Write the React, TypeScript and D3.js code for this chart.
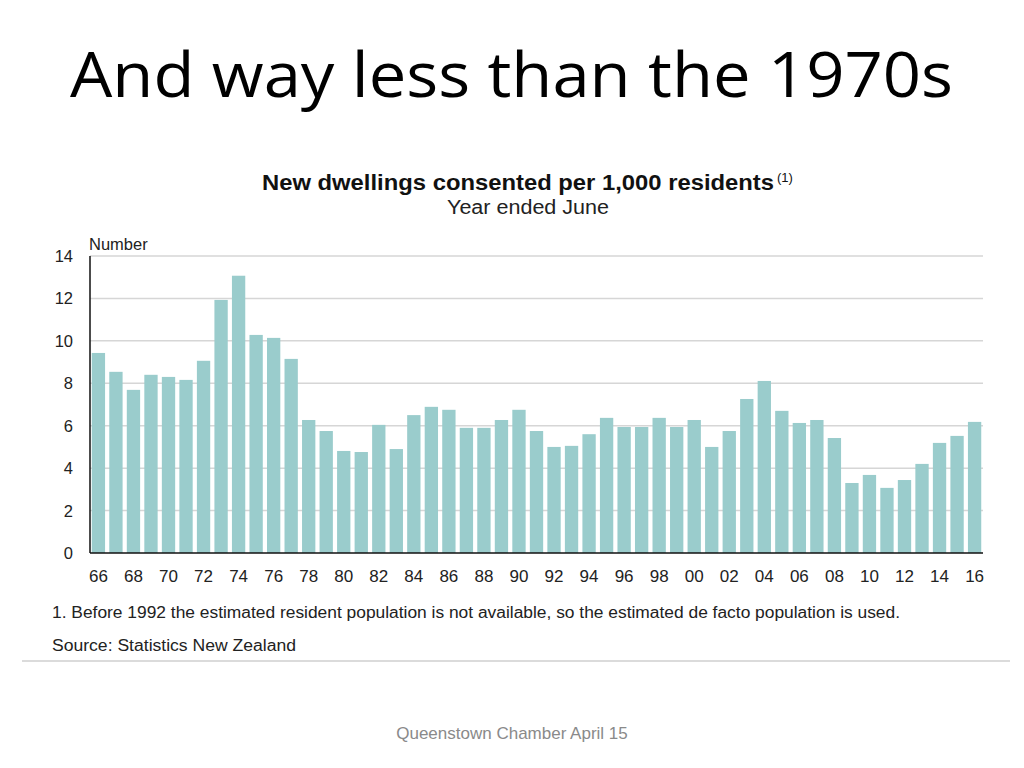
import React from "react";
import * as d3 from "d3";

const years: string[] = [
  "66","67","68","69","70","71","72","73","74","75","76","77","78","79","80","81","82","83","84","85","86","87","88","89","90","91","92","93","94","95","96","97","98","99","00","01","02","03","04","05","06","07","08","09","10","11","12","13","14","15","16",
];
const values: number[] = [
  9.43, 8.54, 7.69, 8.4, 8.3, 8.16, 9.06, 11.93, 13.07, 10.28, 10.14, 9.15, 6.27, 5.75, 4.81, 4.76, 6.04, 4.9, 6.5, 6.89, 6.75, 5.9, 5.9, 6.27, 6.75, 5.75, 5.0, 5.05, 5.6, 6.37, 5.94, 5.94, 6.37, 5.94, 6.27, 5.0, 5.75, 7.26, 8.11, 6.7, 6.13, 6.27, 5.42, 3.3, 3.68, 3.07, 3.44, 4.2, 5.19, 5.52, 6.18,
];
const yTicks: number[] = [0, 2, 4, 6, 8, 10, 12, 14];

export default function App() {
  const W = 1024, H = 768;
  const left = 90, right = 983, top = 256, bottom = 553;
  const x = d3.scaleBand<string>().domain(years).range([left, right]).paddingInner(0.24).paddingOuter(0.1);
  const y = d3.scaleLinear().domain([0, 14]).range([bottom, top]);
  const font = "Arial, 'Liberation Sans', sans-serif";
  return (
    <svg width={W} height={H} style={{ position: "absolute", left: 0, top: 0, background: "#fff" }}>
      <text x={70} y={97} fontFamily="'Open Sans', sans-serif" fontSize={62} fill="#000" textLength={883} lengthAdjust="spacingAndGlyphs">And way less than the 1970s</text>
      <text x={262} y={190} fontFamily={font} fontSize={22} fontWeight="bold" fill="#111" textLength={512} lengthAdjust="spacingAndGlyphs">New dwellings consented per 1,000 residents</text>
      <text x={777} y={182} fontFamily={font} fontSize={13} fill="#111">(1)</text>
      <text x={447} y={214} fontFamily={font} fontSize={20} fill="#222" textLength={162} lengthAdjust="spacingAndGlyphs">Year ended June</text>
      <text x={89} y={250} fontFamily={font} fontSize={16.5} fill="#222">Number</text>
      {yTicks.map((t) => (
        <g key={t}>
          {t > 0 && <line x1={left} x2={right} y1={y(t)} y2={y(t)} stroke="#d6d6d6" strokeWidth={1.5} />}
          <text x={73} y={y(t) + 6} textAnchor="end" fontFamily={font} fontSize={16.5} fill="#222">{t}</text>
        </g>
      ))}
      {values.map((v, i) => (
        <rect key={years[i]} x={x(years[i])} y={y(v)} width={x.bandwidth()} height={y(0) - y(v)} fill="#9acccc" />
      ))}
      <line x1={left} x2={left} y1={top} y2={bottom} stroke="#111" strokeWidth={1.5} />
      <line x1={left} x2={right} y1={bottom} y2={bottom} stroke="#111" strokeWidth={1.5} />
      {years.map((yr, i) =>
        i % 2 === 0 ? (
          <text key={yr} x={(x(yr) as number) + x.bandwidth() / 2} y={582} textAnchor="middle" fontFamily={font} fontSize={17} fill="#222">{yr}</text>
        ) : null
      )}
      <text x={52} y={618} fontFamily={font} fontSize={16} fill="#222" textLength={848} lengthAdjust="spacingAndGlyphs">1. Before 1992 the estimated resident population is not available, so the estimated de facto population is used.</text>
      <text x={52} y={651} fontFamily={font} fontSize={16} fill="#222" textLength={244} lengthAdjust="spacingAndGlyphs">Source: Statistics New Zealand</text>
      <line x1={22} x2={1010} y1={661} y2={661} stroke="#cfcfcf" strokeWidth={1.5} />
      <text x={512} y={739} textAnchor="middle" fontFamily={font} fontSize={17} fill="#8a8a8a">Queenstown Chamber April 15</text>
    </svg>
  );
}
